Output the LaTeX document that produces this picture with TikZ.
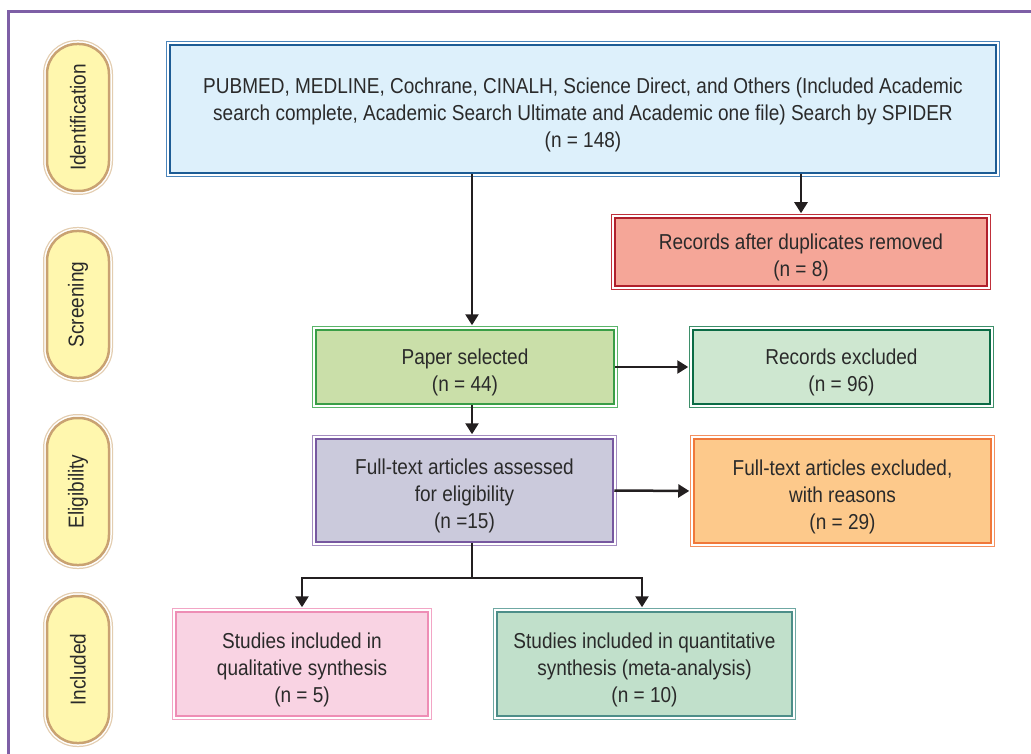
\documentclass[tikz,border=0pt]{standalone}
\usepackage{fontspec}
\setmainfont[FakeStretch=0.88]{Liberation Sans}
\usetikzlibrary{arrows.meta,calc}
\newcommand{\tstrut}{\rule{0pt}{27pt}}
\definecolor{frame}{HTML}{7E5FA6}
\definecolor{txt}{HTML}{2A2A2A}
\definecolor{lnk}{HTML}{231F20}
\definecolor{pillF}{HTML}{FFF7AE}
\definecolor{pillD}{HTML}{C9A272}
\definecolor{pillL}{HTML}{E3CDB0}
\definecolor{blueF}{HTML}{DDF0FB}
\definecolor{blueD}{HTML}{1D5C95}
\definecolor{blueL}{HTML}{4C86BC}
\definecolor{redF}{HTML}{F5A698}
\definecolor{redD}{HTML}{B0202C}
\definecolor{redL}{HTML}{C0303A}
\definecolor{papF}{HTML}{CADFA9}
\definecolor{papD}{HTML}{3A9E46}
\definecolor{papL}{HTML}{5BB56A}
\definecolor{rexF}{HTML}{CEE7D0}
\definecolor{rexD}{HTML}{0B6B45}
\definecolor{rexL}{HTML}{3E8F6A}
\definecolor{assF}{HTML}{CBCADC}
\definecolor{assD}{HTML}{7758A0}
\definecolor{assL}{HTML}{A48CC0}
\definecolor{ftxF}{HTML}{FDC98B}
\definecolor{ftxD}{HTML}{F0783A}
\definecolor{ftxL}{HTML}{F39060}
\definecolor{pinkF}{HTML}{F9D3E3}
\definecolor{pinkD}{HTML}{EE8DB5}
\definecolor{pinkL}{HTML}{F2A5C5}
\definecolor{tealF}{HTML}{C1E0CB}
\definecolor{tealD}{HTML}{4D8E89}
\definecolor{tealL}{HTML}{6FA8A3}
\begin{document}
\begin{tikzpicture}[x=1pt,y=-1pt,
  dshape/.style n args={3}{fill=#1, draw=#2, line width=2.5pt,
    preaction={draw=#3, line width=8pt},
    preaction={draw=white, line width=5.5pt},
    text=txt, align=center, inner sep=0pt,
    font=\fontsize{21.6}{27}\selectfont},
  dbox/.style n args={3}{dshape={#1}{#2}{#3}},
  pill/.style={dshape={pillF}{pillD}{pillL}, rounded corners=30pt, rotate=90,
    minimum width=147pt, minimum height=62pt},
  link/.style={draw=lnk, line width=2.5pt},
  arr/.style={link, -{Triangle[width=13pt,length=11pt]}, shorten >=3.5pt}]
\useasboundingbox (0,0) rectangle (1031,754);
\draw[frame, line width=3pt] (8,754) -- (8,12) -- (1031,12);

% phase pills
\node[pill] (p1) at (78,117.5) {Identification};
\node[pill] (p2) at (78,304.5) {Screening};
\node[pill] (p3) at (78,491.5) {Eligibility};
\node[pill] (p4) at (78,669.5) {Included};

% boxes
\node[dbox={blueF}{blueD}{blueL}, minimum width=826pt, minimum height=128pt] (search) at (583,109)
  {\tstrut PUBMED, MEDLINE, Cochrane, CINALH, Science Direct, and Others (Included Academic\\
   search complete, Academic Search Ultimate and Academic one file) Search by SPIDER\\
   (n = 148)};
\node[dbox={redF}{redD}{redL}, minimum width=372pt, minimum height=68pt] (dup) at (801,252)
  {\tstrut Records after duplicates removed\\(n = 8)};
\node[dbox={papF}{papD}{papL}, minimum width=298pt, minimum height=74pt] (paper) at (465,367)
  {\tstrut Paper selected\\(n = 44)};
\node[dbox={rexF}{rexD}{rexL}, minimum width=297pt, minimum height=74pt] (rex) at (841.5,367)
  {\tstrut Records excluded\\(n = 96)};
\node[dbox={assF}{assD}{assL}, minimum width=297pt, minimum height=103pt] (ass) at (464.5,490.5)
  {\tstrut Full-text articles assessed\\for eligibility\\(n =15)};
\node[dbox={ftxF}{ftxD}{ftxL}, minimum width=297pt, minimum height=104pt] (ftx) at (842.5,491)
  {\tstrut Full-text articles excluded,\\with reasons\\(n = 29)};
\node[dbox={pinkF}{pinkD}{pinkL}, minimum width=252pt, minimum height=104pt] (qual) at (302,664)
  {\tstrut Studies included in\\qualitative synthesis\\(n = 5)};
\node[dbox={tealF}{tealD}{tealL}, minimum width=295pt, minimum height=104pt] (quant) at (644.5,664)
  {\tstrut Studies included in quantitative\\synthesis (meta-analysis)\\(n = 10)};

% connectors
\coordinate (spine) at (472,0);
\coordinate (br) at (472,578);
\draw[arr] (search.south -| spine) -- (paper.north -| spine);
\draw[arr] (search.south -| dup.north) -- (dup.north);
\draw[arr] (paper.east) -- (rex.west);
\draw[arr] (paper.south -| spine) -- (ass.north -| spine);
\draw[arr] (ass.east) -- (ftx.west);
\draw[link] (ass.south -| spine) -- (br);
\draw[arr] (br) -| (qual.north);
\draw[arr] (br) -| ($(quant.north)+(-2.5,0)$);
\end{tikzpicture}
\end{document}
